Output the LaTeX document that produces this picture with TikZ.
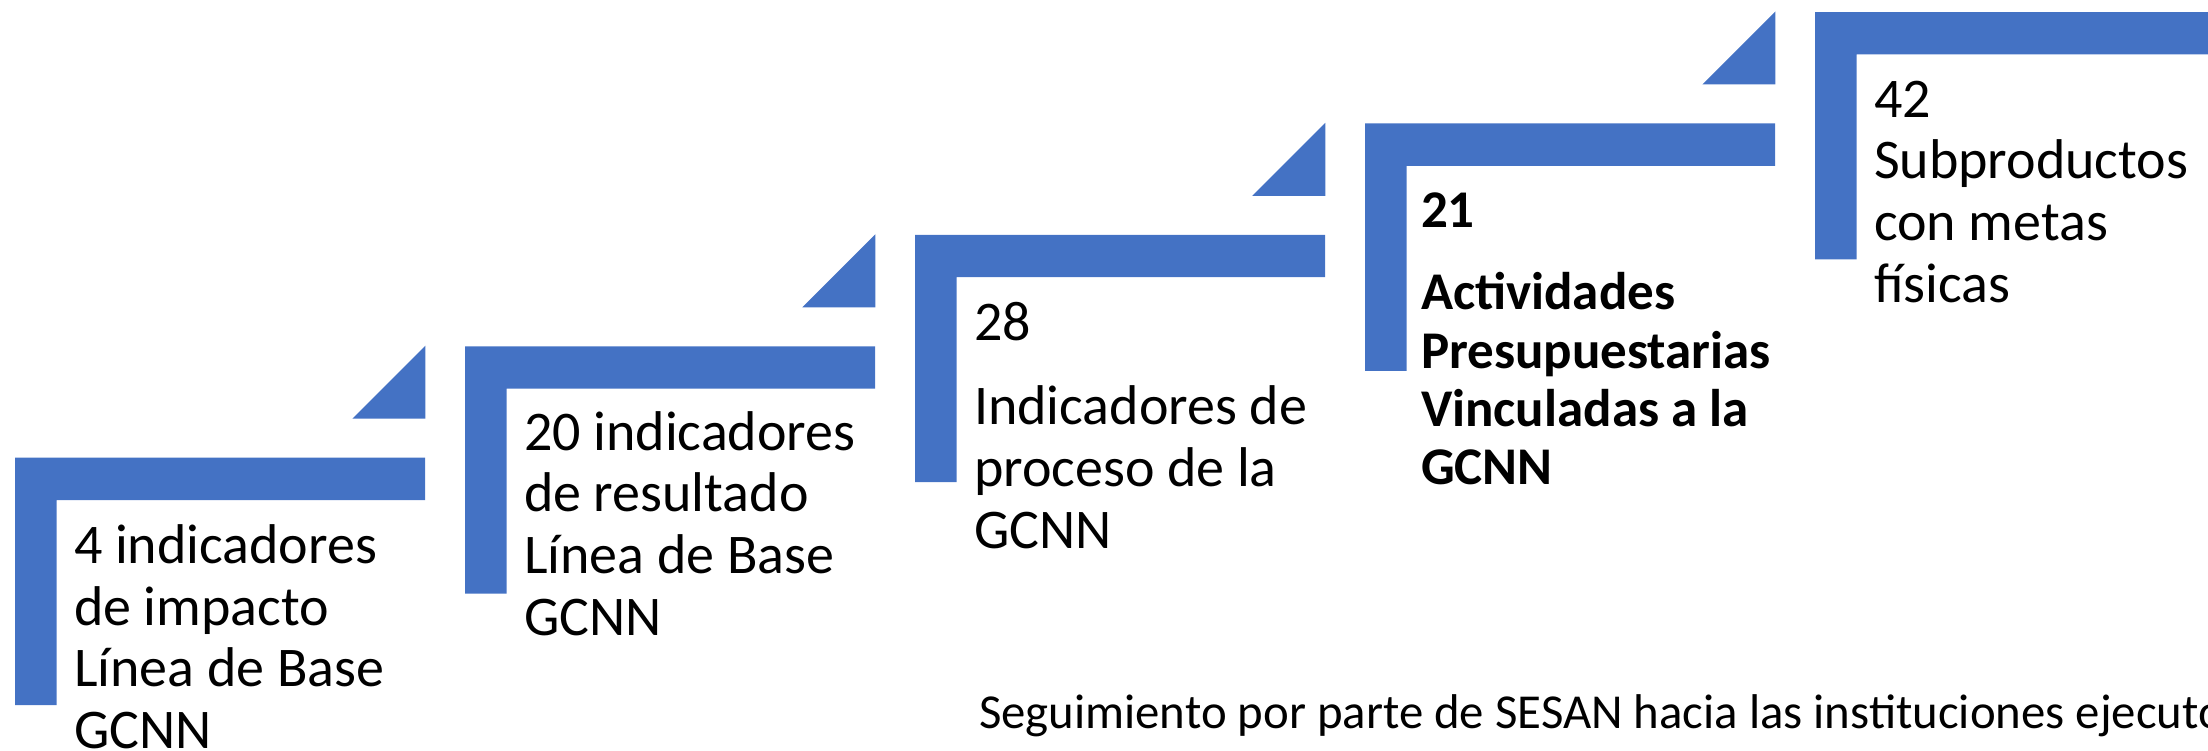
\documentclass[tikz,border=0pt]{standalone}
\usepackage{fontspec}
\setmainfont{Carlito}
\definecolor{stepblue}{HTML}{4472C4}
\begin{document}
\begin{tikzpicture}[x=1pt,y=-1pt,
  stepfill/.style={fill=stepblue,draw=none},
  steptext/.style={anchor=base west,inner sep=0pt,outer sep=0pt,align=left,font=\fontsize{56}{61.7}\selectfont},
  boldtext/.style={anchor=base west,inner sep=0pt,outer sep=0pt,align=left,font=\fontsize{53}{58.2}\selectfont\bfseries},
  foottext/.style={anchor=base west,inner sep=0pt,outer sep=0pt,font=\fontsize{48.8}{53}\selectfont}]
\useasboundingbox (0,0) rectangle (2208,751);
\clip (0,0) rectangle (2208,751);
% L-shaped steps
\foreach \i in {0,...,4}{
  \pgfmathsetmacro\xo{15+450*\i}
  \pgfmathsetmacro\yo{457.7-111.4*\i}
  \fill[stepfill] (\xo,\yo) -- ++(410,0) -- ++(0,42.3) -- ++(-368.3,0)
    -- ++(0,205) -- ++(-41.7,0) -- cycle;
}
% triangles
\foreach \i in {0,...,3}{
  \pgfmathsetmacro\xo{15+450*\i}
  \pgfmathsetmacro\yo{457.7-111.4*\i}
  \fill[stepfill] (\xo+337.3,\yo-39) -- (\xo+410.3,\yo-39) -- (\xo+410.3,\yo-112) -- cycle;
}
% text blocks (anchored at the baseline of their last line)
\node[steptext] (t1) at (74,748.4) {4 indicadores\\de impacto\\Línea de Base\\GCNN};
\node[steptext] (t2) at (524,635.1) {20 indicadores\\de resultado\\Línea de Base\\GCNN};
\node[steptext] (t3) at (974,548.2) {28\\[23pt]Indicadores de\\proceso de la\\GCNN};
\node[boldtext] (t4) at (1421,484.4) {21\\[24.5pt]Actividades\\Presupuestarias\\Vinculadas a la\\GCNN};
\node[steptext] (t5) at (1874,302.4) {42\\Subproductos\\con metas\\físicas};
\node[foottext] (foot) at (979,728) {Seguimiento por parte de SESAN hacia las instituciones ejecutoras};
\end{tikzpicture}
\end{document}
